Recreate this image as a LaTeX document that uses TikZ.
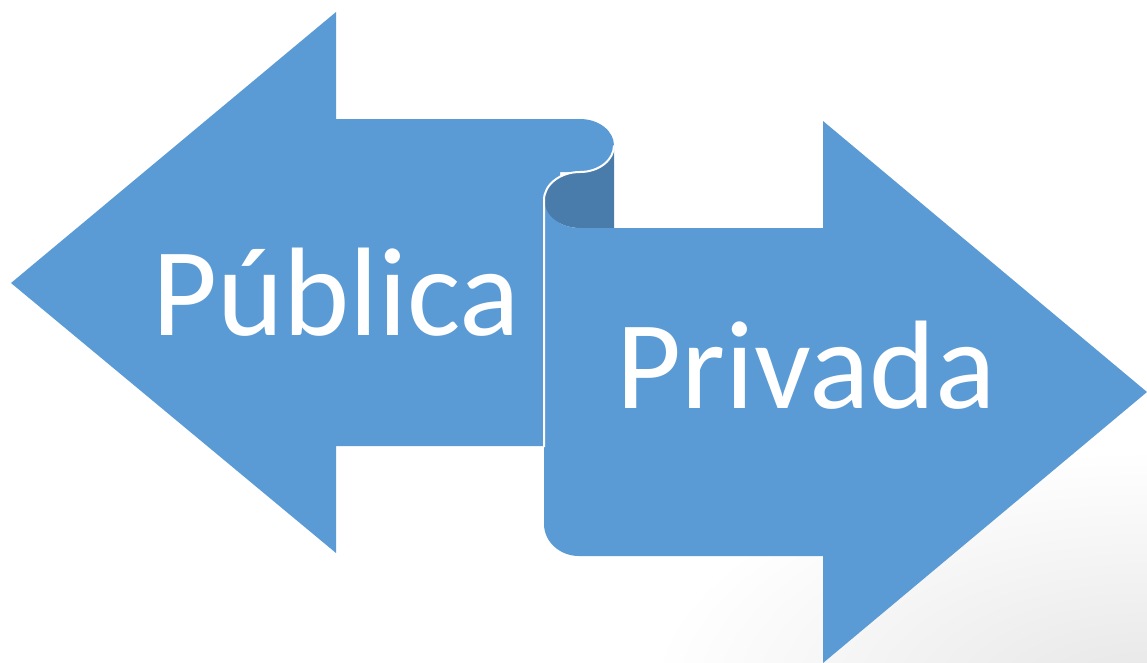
\documentclass[tikz,border=0pt]{standalone}
\usepackage{fontspec}
\setmainfont{Carlito}
\definecolor{arrowblue}{HTML}{5B9BD5}
\definecolor{arrowdark}{HTML}{497CAB}
\begin{document}
\begin{tikzpicture}[x=1pt,y=-1pt,
  lbl/.style={text=white,font=\fontsize{126}{126}\selectfont,inner sep=0pt,anchor=base west}]
\useasboundingbox (0,0) rectangle (1147,662);
\fill[white] (0,0) rectangle (1147,662);
\begin{scope}
\clip (0,0) rectangle (1147,662);
\shade[inner color=black!10,outer color=white] (1147,700) ellipse [x radius=500,y radius=250];
\end{scope}
% left arrow
\fill[arrowblue] (11,283) -- (336,12) -- (336,119) -- (580,119)
  arc[start angle=270,end angle=450,x radius=34,y radius=26.5]
  -- (560,172) -- (560,446) -- (336,446) -- (336,553) -- cycle;
% dark underside of scroll
\fill[arrowdark] (614,145.5) -- (614,228) -- (580,228)
  arc[start angle=90,end angle=270,x radius=36,y radius=28]
  arc[start angle=90,end angle=0,x radius=34,y radius=26.5] -- cycle;
% right arrow
\fill[arrowblue] (544,200) -- (544,524) arc[start angle=180,end angle=90,x radius=35,y radius=32]
  -- (823,556) -- (823,663) -- (1147,392) -- (823,121) -- (823,228) -- (580,228)
  arc[start angle=90,end angle=180,x radius=36,y radius=28] -- cycle;
% white edge of scroll
\draw[white,line width=2pt] (614,145.5)
  arc[start angle=0,end angle=90,x radius=34,y radius=26.5]
  arc[start angle=270,end angle=180,x radius=36,y radius=28] -- (544,447);
\node[lbl] (pub) at (152,335) {Pública};
\node[lbl] (priv) at (616,408) {Privada};
\end{tikzpicture}
\end{document}
